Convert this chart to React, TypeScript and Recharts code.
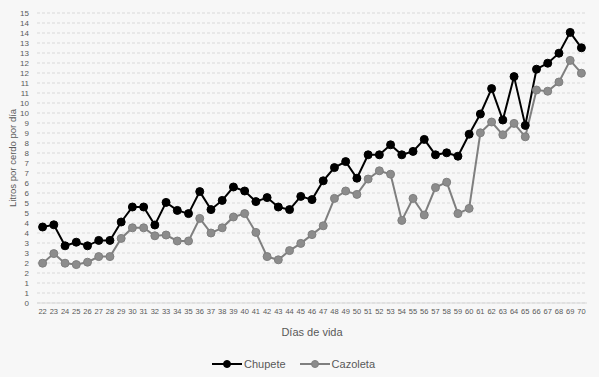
import React from 'react';
import {
  LineChart,
  Line,
  XAxis,
  YAxis,
  CartesianGrid,
  Legend
} from 'recharts';

// dias de vida
const days = [
  22, 23, 24, 25, 26, 27, 28, 29, 30, 31, 32, 33, 34, 35, 36, 37, 38, 39, 40, 41,
  42, 43, 44, 45, 46, 47, 48, 49, 50, 51, 52, 53, 54, 55, 56, 57, 58, 59, 60, 61,
  62, 63, 64, 65, 66, 67, 68, 69, 70
];

const chupete = [
  3.80, 3.91, 2.86, 3.04, 2.86, 3.13, 3.13, 4.05, 4.80, 4.80, 3.90, 5.03, 4.63, 4.47, 5.57, 4.67, 5.13, 5.80, 5.60, 5.07,
  5.27, 4.80, 4.67, 5.33, 5.17, 6.11, 6.77, 7.07, 6.24, 7.41, 7.41, 7.91, 7.41, 7.58, 8.18, 7.41, 7.51, 7.34, 8.44, 9.45,
  10.72, 9.15, 11.32, 8.88, 11.69, 11.99, 12.49, 13.53, 12.76
];

const cazoleta = [
  1.99, 2.47, 1.99, 1.92, 2.04, 2.32, 2.32, 3.23, 3.76, 3.76, 3.36, 3.40, 3.10, 3.10, 4.23, 3.50, 3.76, 4.30, 4.47, 3.53,
  2.32, 2.16, 2.62, 2.98, 3.42, 3.86, 5.23, 5.60, 5.43, 6.20, 6.61, 6.44, 4.13, 5.23, 4.40, 5.77, 6.04, 4.47, 4.73, 8.51,
  9.05, 8.41, 8.98, 8.31, 10.65, 10.59, 11.05, 12.13, 11.49
];

const yTicks = [
  0, 0.5, 1, 1.5, 2, 2.5, 3, 3.5, 4, 4.5, 5, 5.5, 6, 6.5, 7, 7.5, 8, 8.5, 9, 9.5,
  10, 10.5, 11, 11.5, 12, 12.5, 13, 13.5, 14, 14.5
];

const data = days.map((d, i) => ({
  day: d,
  chupete: chupete[i],
  cazoleta: cazoleta[i]
}));

const FONT = '"Liberation Sans", Arial, sans-serif';
const TEXT = '#595959';

const LegendContent = () => {
  const items = [
    { name: 'Chupete', color: '#000000', dot: '#000000' },
    { name: 'Cazoleta', color: '#7f7f7f', dot: '#8c8c8c' }
  ];
  return (
    <div style={{ display: 'flex', justifyContent: 'center', gap: 14, paddingTop: 10, fontFamily: FONT, fontSize: 11, color: TEXT }}>
      {items.map((it) => (
        <div key={it.name} style={{ display: 'flex', alignItems: 'center' }}>
          <svg width={30} height={10}>
            <line x1={0} y1={5} x2={30} y2={5} stroke={it.color} strokeWidth={2} />
            <circle cx={15} cy={5} r={3.5} fill={it.dot} stroke={it.color} />
          </svg>
          <span style={{ marginLeft: 2 }}>{it.name}</span>
        </div>
      ))}
    </div>
  );
};

const YLabel = (props: any) => {
  const { viewBox } = props;
  const cy = viewBox.y + viewBox.height / 2;
  return (
    <text
      x={12}
      y={cy}
      transform={`rotate(-90, 12, ${cy})`}
      textAnchor="middle"
      dominantBaseline="central"
      fill={TEXT}
      fontSize={9.5}
      fontFamily={FONT}
    >
      Litros por cerdo por día
    </text>
  );
};

export default function App() {
  return (
    <div style={{ position: 'absolute', left: 0, top: 0, width: 599, height: 377, background: '#f7f7f7' }}>
      <LineChart
        width={599}
        height={377}
        data={data}
        margin={{ top: 13, right: 12, left: 0, bottom: 5 }}
      >
        <CartesianGrid vertical={false} stroke="#d9d9d9" strokeDasharray="3 2" />
        <XAxis
          dataKey="day"
          interval={0}
          padding={{ left: 5.6, right: 5.6 }}
          tickLine={false}
          tickSize={4}
          stroke="#d9d9d9"
          height={45}
          tick={{ fill: TEXT, fontSize: 7.5, fontFamily: FONT }}
          label={{
            value: 'Días de vida',
            position: 'insideBottom',
            offset: 12,
            fill: TEXT,
            fontSize: 11,
            fontFamily: FONT
          }}
        />
        <YAxis
          width={37}
          domain={[0, 14.5]}
          ticks={yTicks}
          interval={0}
          tickFormatter={(v: number) => String(Math.round(v))}
          axisLine={false}
          tickLine={false}
          tick={{ fill: TEXT, fontSize: 8, fontFamily: FONT }}
          label={<YLabel />}
        />
        <Legend verticalAlign="bottom" height={24} content={<LegendContent />} />
        <Line
          type="linear"
          dataKey="cazoleta"
          name="Cazoleta"
          stroke="#7f7f7f"
          strokeWidth={2}
          dot={{ r: 4, fill: '#8c8c8c', stroke: '#7f7f7f', strokeWidth: 1 }}
          isAnimationActive={false}
        />
        <Line
          type="linear"
          dataKey="chupete"
          name="Chupete"
          stroke="#000000"
          strokeWidth={2}
          dot={{ r: 4, fill: '#000000', stroke: '#000000', strokeWidth: 1 }}
          isAnimationActive={false}
        />
      </LineChart>
    </div>
  );
}
